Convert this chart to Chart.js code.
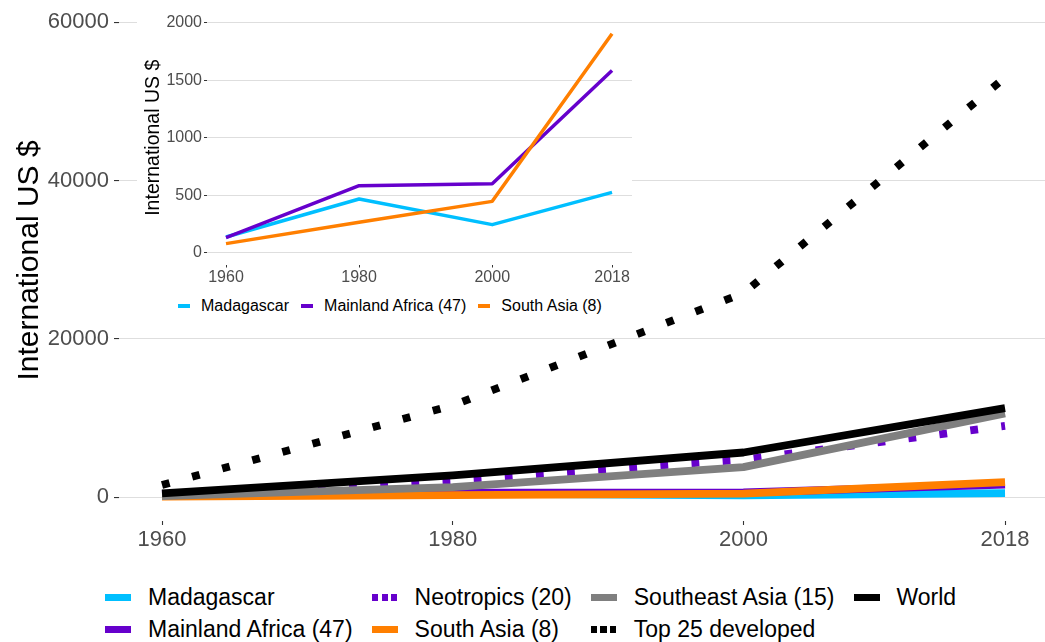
<!DOCTYPE html>
<html>
<head>
<meta charset="utf-8">
<title>GDP per capita, 1960–2018</title>
<script src="https://cdn.jsdelivr.net/npm/chart.js@4.4.1/dist/chart.umd.min.js"></script>
<style>
  html, body { margin: 0; padding: 0; background: #fff; }
  body { width: 1045px; height: 642px; overflow: hidden; font-family: "Liberation Sans", Arial, sans-serif; }
  #wrap { position: relative; width: 1045px; height: 642px; }
  #mainCanvas { position: absolute; left: 0; top: 0; }
  #insetBox { position: absolute; left: 137px; top: 0; width: 495px; height: 330px; background: #fff; }
  #insetCanvas { position: absolute; left: 0; top: 0; }
  .legend { position: absolute; left: 105px; top: 581px; display: grid; grid-auto-flow: column;
            grid-template-rows: 32px 32px; column-gap: 19px; }
  .item { display: flex; align-items: center; font-size: 23px; color: #000; white-space: nowrap; }
  .sw { width: 26px; height: 7px; margin-right: 17px; flex: none; }
  .insetLegend { position: absolute; left: 41px; top: 295px; height: 22px; display: flex; align-items: center;
                 font-size: 16px; color: #000; white-space: nowrap; }
  .insetLegend .item { font-size: 16px; margin-right: 12px; }
  .insetLegend .sw { width: 12px; height: 3.5px; margin-right: 11px; }
</style>
</head>
<body>
<div id="wrap">
  <canvas id="mainCanvas" width="1045" height="560"></canvas>
  <div id="insetBox">
    <canvas id="insetCanvas" width="495" height="290"></canvas>
    <div class="insetLegend" id="insetLegend"></div>
  </div>
  <div class="legend" id="mainLegend"></div>
</div>
<script>
// Survey years
const years = [1960, 1980, 2000, 2018];

// GDP per capita (international US $) by region
const madagascar     = [139, 468, 246, 526];
const mainlandAfrica = [133, 584, 601, 1584];
const neotropics     = [400, 2180, 4750, 9000];
const southAsia      = [81, 266, 448, 1902];
const southeastAsia  = [130, 1280, 3800, 10600];
const top25Developed = [1540, 11600, 25770, 53000];
const world          = [500, 2750, 5650, 11250];

// Axis tick labels
const xTicks      = [1960, 1980, 2000, 2018];
const mainYTicks  = [0, 20000, 40000, 60000];
const insetYTicks = [0, 500, 1000, 1500, 2000];

const FONT = '"Liberation Sans", Arial, sans-serif';
const AXIS_TITLE = 'International US $';

const series = [
  { label: 'Madagascar',           values: madagascar,     color: '#00BFFF', dotted: false, inset: true },
  { label: 'Mainland Africa (47)', values: mainlandAfrica, color: '#6600CC', dotted: false, inset: true },
  { label: 'Neotropics (20)',      values: neotropics,     color: '#6600CC', dotted: true,  inset: false },
  { label: 'South Asia (8)',       values: southAsia,      color: '#FF7F00', dotted: false, inset: true },
  { label: 'Southeast Asia (15)',  values: southeastAsia,  color: '#7F7F7F', dotted: false, inset: false },
  { label: 'Top 25 developed',     values: top25Developed, color: '#000000', dotted: true,  inset: false },
  { label: 'World',                values: world,          color: '#000000', dotted: false, inset: false }
];

function toPoints(values) {
  return years.map((yr, i) => ({ x: yr, y: values[i] }));
}

function makeDatasets(list, width) {
  return list.map((s, i) => ({
    label: s.label,
    data: toPoints(s.values),
    borderColor: s.color,
    backgroundColor: s.color,
    borderWidth: width,
    borderDash: s.dotted ? [width, width * 3] : [],
    borderCapStyle: 'butt',
    borderJoinStyle: 'round',
    pointRadius: 0,
    tension: 0,
    fill: false,
    // later groups are painted over earlier ones
    order: list.length - 1 - i
  }));
}

function fixedTicks(values) {
  return scale => { scale.ticks = values.map(v => ({ value: v })); };
}

// Fix an axis' thickness and drop the label overhang padding
function fitTo(size) {
  return scale => {
    if (scale.isHorizontal()) scale.height = size; else scale.width = size;
    scale.paddingTop = 0; scale.paddingBottom = 0;
    scale.paddingLeft = 0; scale.paddingRight = 0;
  };
}

// ---- Main panel ----
new Chart(document.getElementById('mainCanvas'), {
  type: 'line',
  data: { datasets: makeDatasets(series, 7.8) },
  options: {
    responsive: false,
    animation: false,
    events: [],
    layout: { padding: 0 },
    plugins: { legend: { display: false }, tooltip: { enabled: false } },
    scales: {
      x: {
        type: 'linear',
        min: 1957.04,
        max: 2020.75,
        afterBuildTicks: fixedTicks(xTicks),
        afterFit: fitTo(39),
        border: { display: false },
        grid: { drawOnChartArea: false, drawTicks: true, tickLength: 4, tickColor: '#333333', tickWidth: 1.1 },
        ticks: { padding: 2, color: '#4D4D4D', font: { family: FONT, size: 22 }, callback: v => String(v), maxRotation: 0 }
      },
      y: {
        type: 'linear',
        min: -3000,
        max: 62800,
        afterBuildTicks: fixedTicks(mainYTicks),
        afterFit: fitTo(119),
        border: { display: false },
        grid: { color: '#DEDEDE', lineWidth: 1.1, drawTicks: true, tickLength: 5, tickColor: '#333333', tickWidth: 1.1 },
        ticks: { padding: 5, color: '#4D4D4D', font: { family: FONT, size: 22 }, callback: v => String(v) },
        title: { display: true, text: AXIS_TITLE, color: '#000', font: { family: FONT, size: 30, weight: 'normal' },
                 padding: { top: 12, bottom: 0 } }
      }
    }
  }
});

// ---- Inset: low-income regions ----
const insetSeries = series.filter(s => s.inset);
new Chart(document.getElementById('insetCanvas'), {
  type: 'line',
  data: { datasets: makeDatasets(insetSeries, 3.5) },
  options: {
    responsive: false,
    animation: false,
    events: [],
    layout: { padding: { top: 11, left: 0, right: 0, bottom: 0 } },
    plugins: { legend: { display: false }, tooltip: { enabled: false } },
    scales: {
      x: {
        type: 'linear',
        min: 1957.145,
        max: 2021.0,
        afterBuildTicks: fixedTicks(xTicks),
        afterFit: fitTo(25.5),
        border: { display: false },
        grid: { drawOnChartArea: false, drawTicks: true, tickLength: 3, tickColor: '#333333', tickWidth: 1 },
        ticks: { padding: 0, color: '#4D4D4D', font: { family: FONT, size: 16 }, callback: v => String(v), maxRotation: 0 }
      },
      y: {
        type: 'linear',
        min: -100,
        max: 2100,
        afterBuildTicks: fixedTicks(insetYTicks),
        afterFit: fitTo(70),
        border: { display: false },
        grid: { color: '#DEDEDE', lineWidth: 1, drawTicks: true, tickLength: 3, tickColor: '#333333', tickWidth: 1 },
        ticks: { padding: 2, color: '#4D4D4D', font: { family: FONT, size: 16 }, callback: v => String(v) },
        title: { display: true, text: AXIS_TITLE, color: '#000', font: { family: FONT, size: 19.5, weight: 'normal' },
                 padding: { top: 5.3, bottom: 0 } }
      }
    }
  }
});

// ---- Legends ----
function swatchStyle(s) {
  if (s.dotted) {
    return 'background: repeating-linear-gradient(to right, ' + s.color + ' 0 6px, transparent 6px 9.5px);';
  }
  return 'background:' + s.color + ';';
}

function buildLegend(el, list) {
  list.forEach(s => {
    const item = document.createElement('div');
    item.className = 'item';
    const sw = document.createElement('span');
    sw.className = 'sw';
    sw.setAttribute('style', swatchStyle(s));
    const txt = document.createElement('span');
    txt.textContent = s.label;
    item.appendChild(sw);
    item.appendChild(txt);
    el.appendChild(item);
  });
}

buildLegend(document.getElementById('mainLegend'), series);
buildLegend(document.getElementById('insetLegend'), insetSeries);
</script>
</body>
</html>
